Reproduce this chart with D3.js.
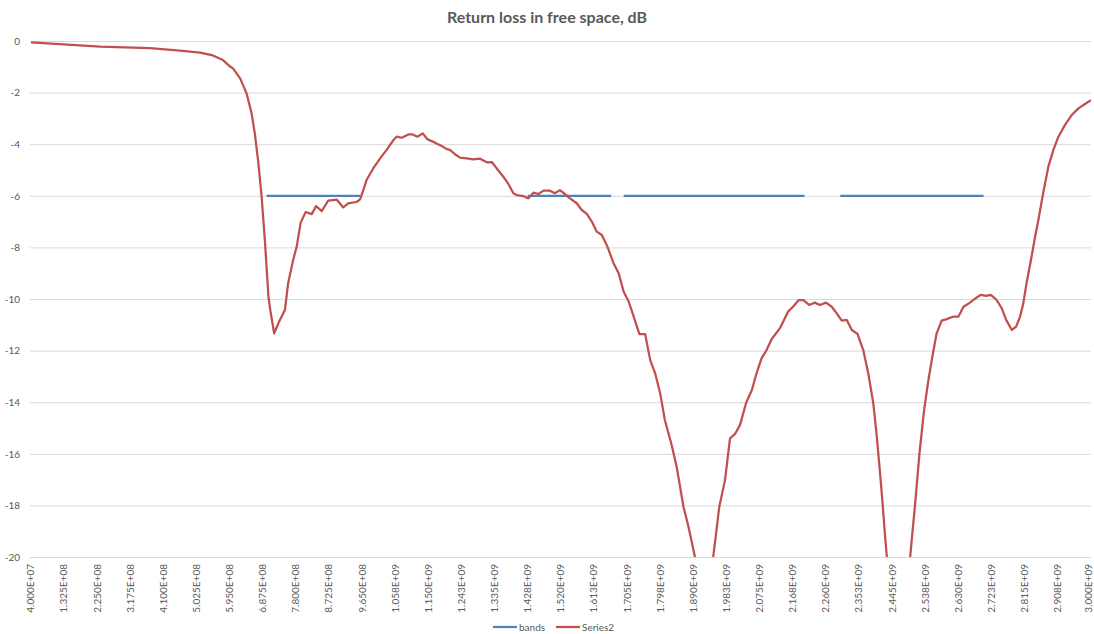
<!DOCTYPE html>
<html lang="en">

<head>
  <meta charset="UTF-8" />
  <title>Return loss in free space, dB</title>
  <script src="https://d3js.org/d3.v7.min.js"></script>
  <style>
    body {
      margin: 0;
      background: #ffffff;
      font-family: 'Lato', 'Open Sans', sans-serif;
    }
  </style>
</head>

<body>
  <svg id="chart" width="1094" height="634"></svg>

  <script>
    // frequency of each measured point, MHz
    const freqMHz = [
      40, 233, 372, 456, 512, 548, 576, 596, 604, 624, 642, 656, 665, 675, 684, 693, 703, 709, 719, 735,
      749, 758, 772, 782, 793, 807, 824, 836, 852, 870, 894, 912, 926, 949, 959, 968, 977, 996, 1015, 1033,
      1052, 1061, 1075, 1094, 1106, 1119, 1134, 1147, 1168, 1187, 1201, 1210, 1224, 1238, 1257, 1275, 1294, 1313, 1327, 1340,
      1359, 1373, 1387, 1396, 1415, 1429, 1443, 1457, 1471, 1489, 1503, 1517, 1531, 1545, 1564, 1578, 1592, 1606, 1620, 1634,
      1649, 1667, 1681, 1695, 1709, 1723, 1739, 1755, 1769, 1783, 1797, 1810, 1829, 1843, 1862, 1876, 1894, 1919, 1945, 1952,
      1962, 1978, 1992, 2006, 2020, 2037, 2053, 2066, 2080, 2094, 2108, 2131, 2154, 2168, 2184, 2197, 2213, 2229, 2243, 2260,
      2276, 2290, 2304, 2318, 2332, 2348, 2364, 2378, 2392, 2401, 2411, 2418, 2425, 2430, 2461, 2495, 2509, 2521, 2534, 2546,
      2557, 2569, 2583, 2597, 2616, 2630, 2644, 2662, 2681, 2692, 2707, 2720, 2735, 2751, 2763, 2779, 2791, 2802, 2811, 2820,
      2834, 2844, 2853, 2867, 2881, 2895, 2909, 2927, 2946, 2965, 2983, 3000
    ];

    // Series2: return loss, dB
    const returnLoss = [
      -0.05, -0.22, -0.28, -0.37, -0.45, -0.56, -0.74, -0.99, -1.06, -1.45, -2.03, -2.80, -3.58, -4.74, -6.03, -7.71, -9.91, -10.5, -11.33, -10.81,
      -10.43, -9.39, -8.49, -7.97, -7.04, -6.63, -6.71, -6.40, -6.59, -6.19, -6.15, -6.45, -6.29, -6.24, -6.14, -5.78, -5.39, -4.93, -4.55, -4.22,
      -3.84, -3.71, -3.75, -3.62, -3.62, -3.71, -3.58, -3.81, -3.94, -4.07, -4.19, -4.22, -4.39, -4.52, -4.55, -4.59, -4.56, -4.70, -4.69, -4.93,
      -5.26, -5.54, -5.90, -5.97, -6.01, -6.10, -5.88, -5.93, -5.80, -5.80, -5.90, -5.78, -5.93, -6.10, -6.29, -6.55, -6.70, -7.00, -7.39, -7.52,
      -7.95, -8.62, -9.00, -9.72, -10.10, -10.68, -11.36, -11.36, -12.36, -12.88, -13.66, -14.69, -15.66, -16.50, -18.05, -18.83, -19.99, -22.0, -20.0, -19.21,
      -18.05, -17.02, -15.40, -15.23, -14.88, -14.02, -13.53, -12.88, -12.30, -11.98, -11.56, -11.14, -10.49, -10.30, -10.04, -10.04, -10.23, -10.14, -10.23, -10.14,
      -10.30, -10.56, -10.84, -10.81, -11.20, -11.35, -11.98, -12.88, -14.04, -15.21, -16.76, -17.92, -19.21, -20.0, -25.0, -20.0, -17.92, -15.98, -14.30, -13.14,
      -12.24, -11.33, -10.84, -10.78, -10.68, -10.68, -10.30, -10.14, -9.94, -9.84, -9.88, -9.84, -10.01, -10.36, -10.81, -11.20, -11.07, -10.68, -10.17, -9.39,
      -8.36, -7.58, -6.94, -5.85, -4.87, -4.22, -3.71, -3.26, -2.87, -2.61, -2.44, -2.29
    ];

    // bands series: start / end in MHz, all at -6 dB
    const bandStart = [698, 1427, 1695, 2300];
    const bandEnd = [960, 1660, 2200, 2700];
    const bandLevel = -6;

    const xTickLabels = [
      "4.000E+07", "1.325E+08", "2.250E+08", "3.175E+08", "4.100E+08", "5.025E+08", "5.950E+08", "6.875E+08",
      "7.800E+08", "8.725E+08", "9.650E+08", "1.058E+09", "1.150E+09", "1.243E+09", "1.335E+09", "1.428E+09",
      "1.520E+09", "1.613E+09", "1.705E+09", "1.798E+09", "1.890E+09", "1.983E+09", "2.075E+09", "2.168E+09",
      "2.260E+09", "2.353E+09", "2.445E+09", "2.538E+09", "2.630E+09", "2.723E+09", "2.815E+09", "2.908E+09",
      "3.000E+09"
    ];
    const yTicks = [0, -2, -4, -6, -8, -10, -12, -14, -16, -18, -20];
    const yTickLabels = ["0", "-2", "-4", "-6", "-8", "-10", "-12", "-14", "-16", "-18", "-20"];

    const seriesNames = ["bands", "Series2"];
    const colors = ["#4F81BD", "#C0504D"];

    const width = 1094;
    const plot = { left: 31, right: 1091, top: 41, bottom: 557 };
    const textColor = "#595959";

    const svg = d3.select("#chart");

    const x = d3.scaleLinear().domain([40, 3000]).range([plot.left, plot.right]);
    const xCat = d3.scalePoint().domain(xTickLabels).range([plot.left, plot.right]);
    const y = d3.scaleLinear().domain([-20, 0]).range([plot.bottom, plot.top]);

    // title
    svg.append("text")
      .attr("x", width / 2)
      .attr("y", 23)
      .attr("text-anchor", "middle")
      .attr("fill", textColor)
      .attr("font-size", "16px")
      .attr("font-weight", "bold")
      .text("Return loss in free space, dB");

    // gridlines + y labels
    const yAxis = d3.axisLeft(y)
      .tickValues(yTicks)
      .tickSize(-(plot.right - plot.left + 1))
      .tickPadding(10)
      .tickFormat((d, i) => yTickLabels[i]);

    svg.append("g")
      .attr("transform", `translate(${plot.left - 1},0)`)
      .call(yAxis)
      .call(g => g.select(".domain").remove())
      .call(g => g.selectAll("line").attr("stroke", "#d9d9d9").attr("stroke-width", 1))
      .call(g => g.selectAll("text")
        .attr("fill", textColor)
        .attr("font-size", "10px")
        .attr("font-family", "'Lato', sans-serif"));

    // x labels, rotated (last one nudged so it stays inside the page)
    const lastIdx = xTickLabels.length - 1;
    const xAxis = d3.axisBottom(xCat).tickSize(0).tickPadding(0);
    svg.append("g")
      .attr("transform", `translate(0,${plot.bottom})`)
      .call(xAxis)
      .call(g => g.select(".domain").remove())
      .call(g => g.selectAll("text")
        .attr("transform", "rotate(-90)")
        .attr("x", -7)
        .attr("y", (d, i) => i === lastIdx ? -2.5 : 0)
        .attr("dy", "0.28em")
        .attr("text-anchor", "end")
        .attr("fill", textColor)
        .attr("font-size", "10px")
        .attr("font-family", "'Lato', sans-serif"));

    svg.append("clipPath")
      .attr("id", "plot-clip")
      .append("rect")
      .attr("x", plot.left)
      .attr("y", plot.top - 5)
      .attr("width", plot.right - plot.left)
      .attr("height", plot.bottom - plot.top + 5);

    const lines = svg.append("g").attr("clip-path", "url(#plot-clip)");

    // bands
    bandStart.forEach((s, i) => {
      lines.append("path")
        .attr("d", d3.line()([[x(s), y(bandLevel)], [x(bandEnd[i]), y(bandLevel)]]))
        .attr("fill", "none")
        .attr("stroke", colors[0])
        .attr("stroke-width", 2.25);
    });

    // Series2
    const pts = freqMHz.map((f, i) => [f, returnLoss[i]]);
    lines.append("path")
      .datum(pts)
      .attr("d", d3.line().x(d => x(d[0])).y(d => y(d[1])))
      .attr("fill", "none")
      .attr("stroke", colors[1])
      .attr("stroke-width", 2.25)
      .attr("stroke-linejoin", "round");

    // legend
    const legendX = [493, 556];
    const legend = svg.append("g");
    seriesNames.forEach((name, i) => {
      legend.append("line")
        .attr("x1", legendX[i]).attr("x2", legendX[i] + 24)
        .attr("y1", 627).attr("y2", 627)
        .attr("stroke", colors[i])
        .attr("stroke-width", 2.25);
      legend.append("text")
        .attr("x", legendX[i] + 26)
        .attr("y", 627)
        .attr("dy", "0.35em")
        .attr("fill", textColor)
        .attr("font-size", "10px")
        .text(name);
    });
  </script>
</body>

</html>
